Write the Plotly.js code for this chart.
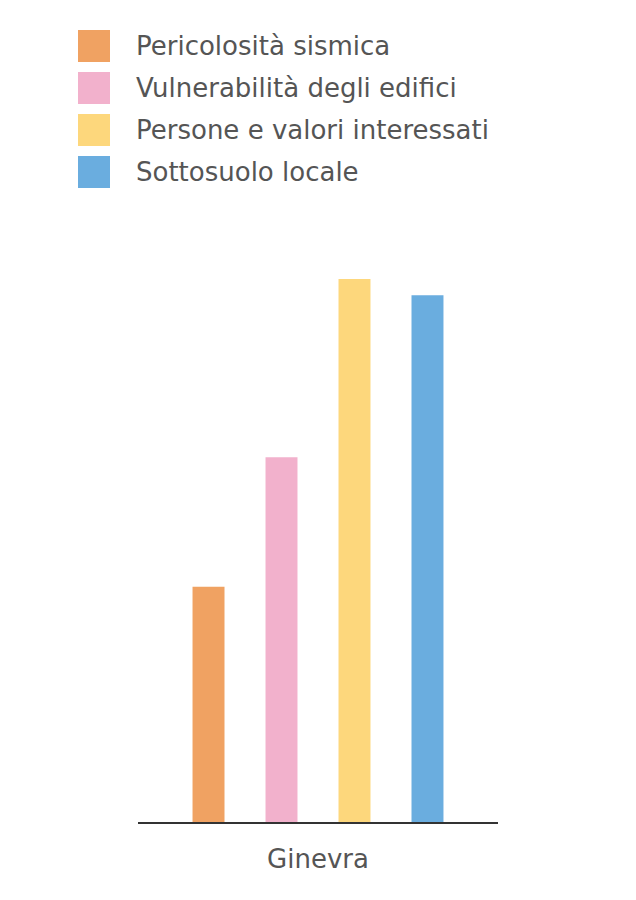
<!DOCTYPE html>
<html>
<head>
<meta charset="utf-8">
<script src="https://cdn.plot.ly/plotly-3.0.1.min.js"></script>
<style>
  html, body { margin: 0; padding: 0; background: #ffffff; }
  #chart { width: 636px; height: 900px; }
</style>
</head>
<body>
<div id="chart"></div>
<script>
var categories = ["Ginevra"]
var seriesNames = [
    "Pericolosità sismica",
    "Vulnerabilità degli edifici",
    "Persone e valori interessati",
    "Sottosuolo locale"
]
var seriesValues = [39.2, 60.8, 90.5, 87.8]
var colors = ["#f0a262", "#f2b1cc", "#fdd77c", "#6aaddf"]

// plot area in pixels, used to place the hand-made legend
var plotLeft = 138, plotBottom = 822, plotW = 360, plotH = 600

var data = seriesNames.map(function (name, i) {
    return {
        type: "bar",
        name: name,
        x: categories,
        y: [seriesValues[i]],
        marker: { color: colors[i] },
        hoverinfo: "none"
    }
})

var shapes = []
var annotations = []
seriesNames.forEach(function (name, i) {
    var top = 30 + i * 42
    shapes.push({
        type: "rect",
        xref: "paper", yref: "paper",
        x0: (78 - plotLeft) / plotW, x1: (110 - plotLeft) / plotW,
        y0: (plotBottom - top - 32) / plotH, y1: (plotBottom - top) / plotH,
        fillcolor: colors[i],
        line: { width: 0 }
    })
    annotations.push({
        xref: "paper", yref: "paper",
        x: (134 - plotLeft) / plotW,
        y: (plotBottom - top - 16) / plotH,
        xanchor: "left", yanchor: "middle",
        text: name,
        showarrow: false,
        font: { family: "DejaVu Sans, Verdana, sans-serif", size: 26, color: "#555555" }
    })
})

var layout = {
    width: 636,
    height: 900,
    margin: { l: plotLeft, r: 636 - plotLeft - plotW, t: plotBottom - plotH, b: 900 - plotBottom, pad: 0 },
    barmode: "group",
    bargap: 0.189,
    bargroupgap: 0.562,
    showlegend: false,
    xaxis: {
        range: [-0.5, 0.5],
        showline: true,
        linecolor: "#333333",
        linewidth: 2,
        ticks: "",
        showgrid: false,
        zeroline: false,
        ticklabelstandoff: 13,
        tickfont: { family: "DejaVu Sans, Verdana, sans-serif", size: 26, color: "#555555" }
    },
    yaxis: {
        range: [0, 100],
        visible: false,
        showgrid: false,
        zeroline: false
    },
    shapes: shapes,
    annotations: annotations,
    plot_bgcolor: "#ffffff",
    paper_bgcolor: "#ffffff",
    font: { family: "DejaVu Sans, Verdana, sans-serif", color: "#555555" }
}

Plotly.newPlot("chart", data, layout, { displayModeBar: false, staticPlot: true })
</script>
</body>
</html>
